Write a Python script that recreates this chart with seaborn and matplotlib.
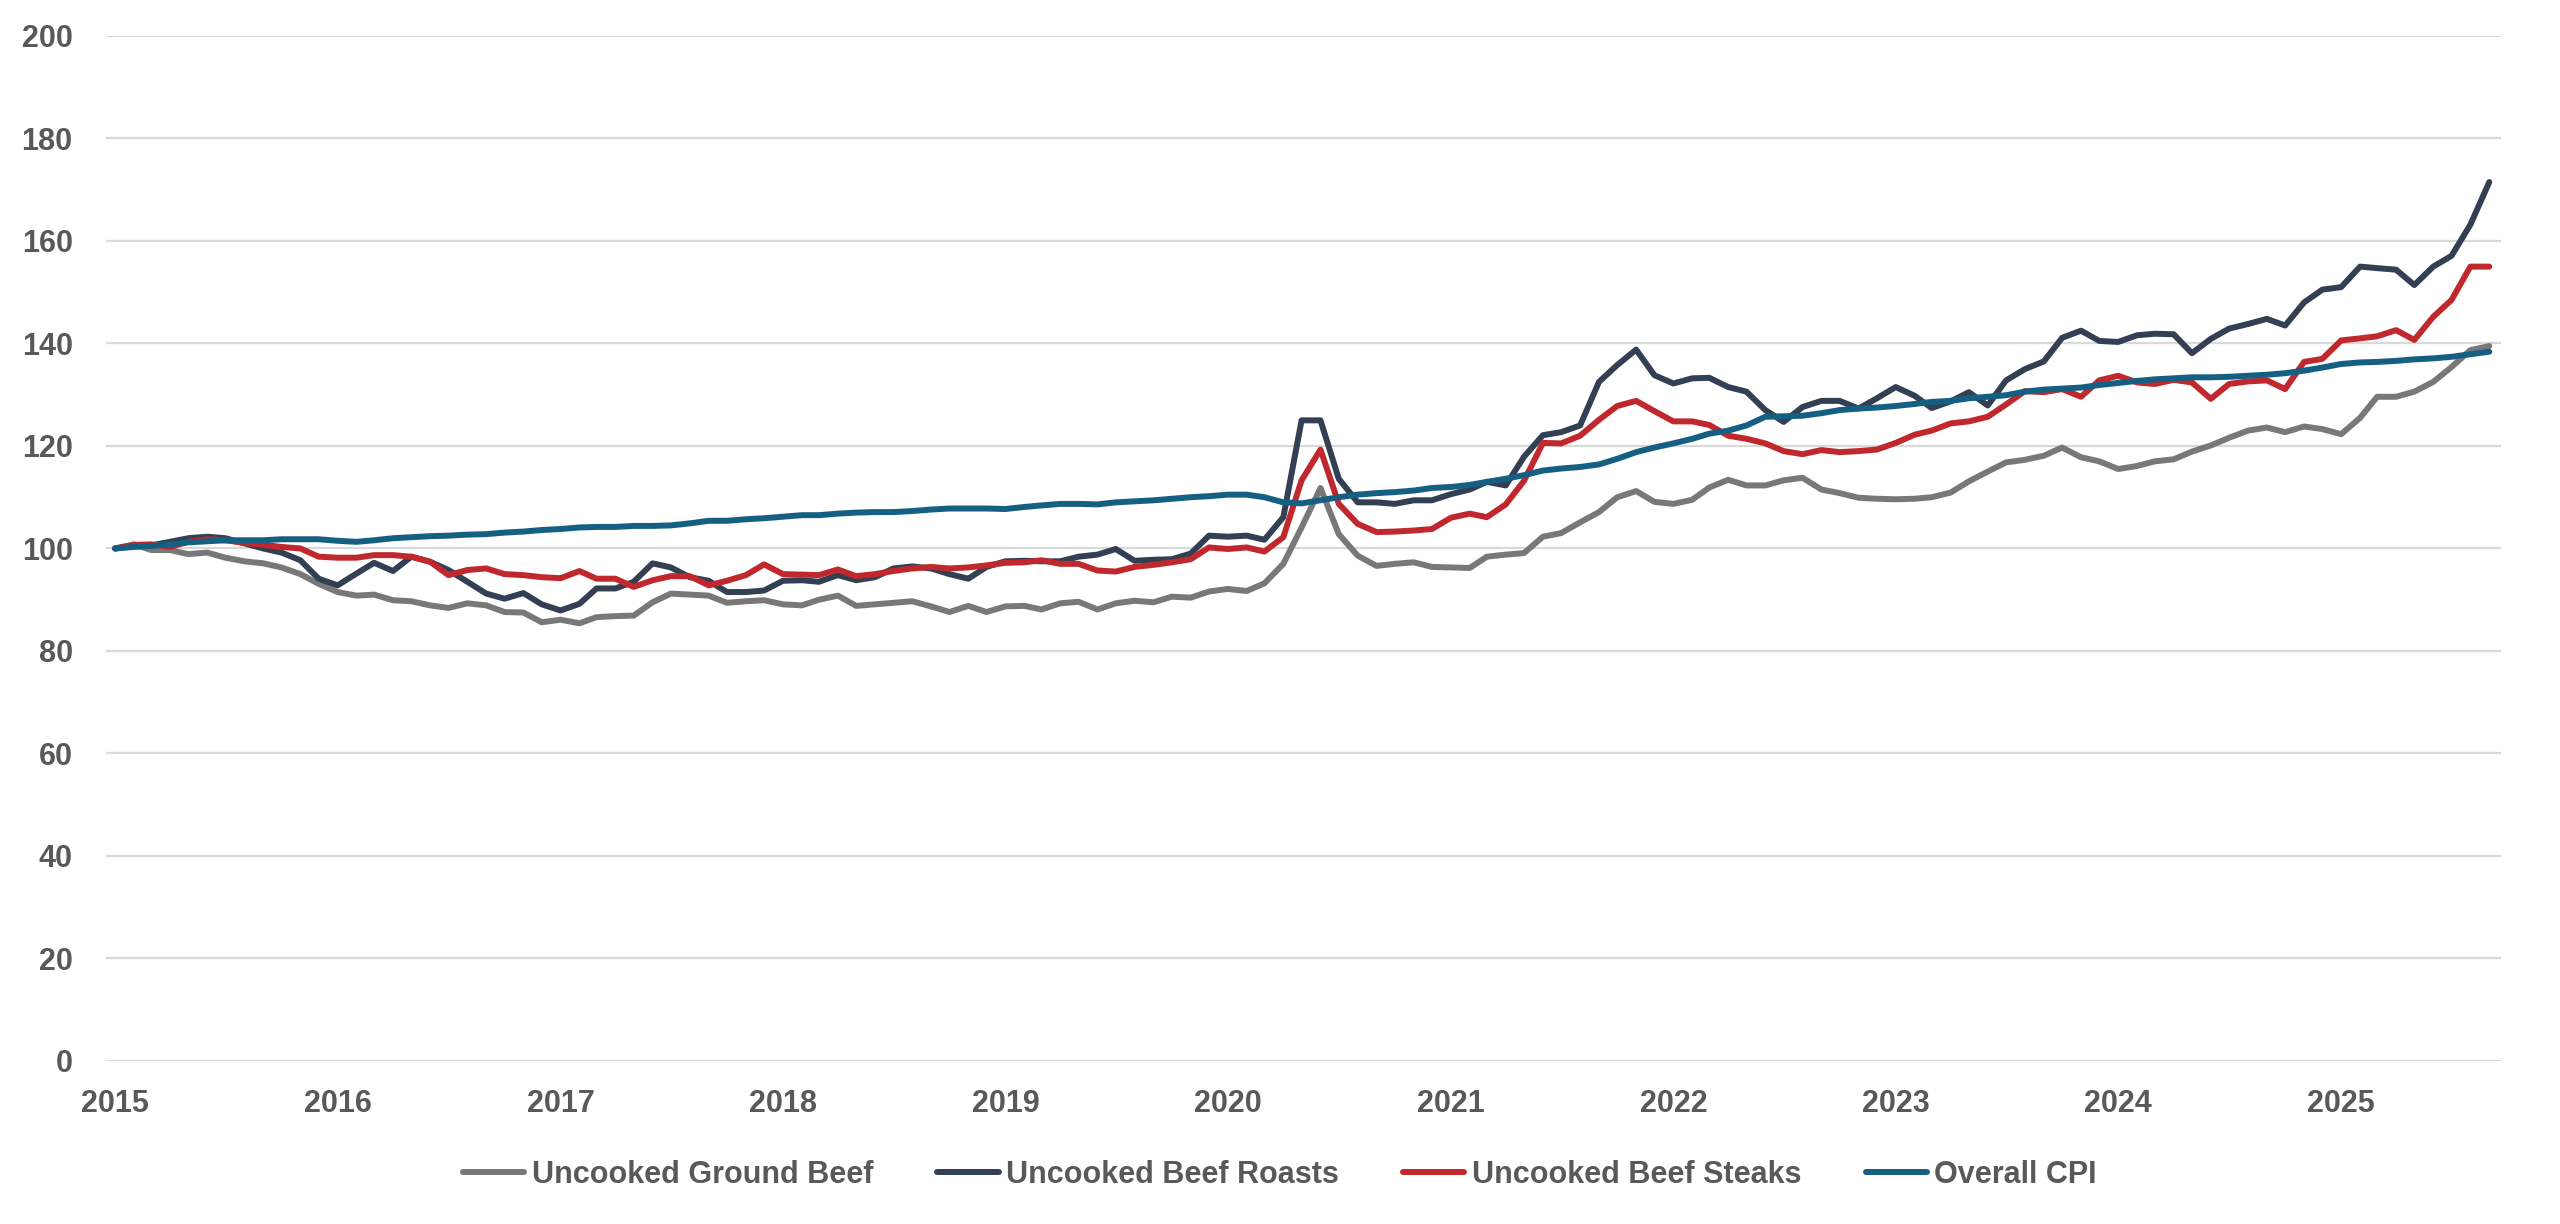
#!/usr/bin/env python3
"""
Beef price indexes vs overall CPI, Jan 2015 = 100.
Monthly values read off the reference chart.
"""

import pandas as pd
import matplotlib
matplotlib.use('Agg')
import matplotlib.pyplot as plt
import matplotlib.dates as mdates
import seaborn as sns

# monthly index values, Jan 2015 .. Sep 2025 (one row per year)
ground_beef = [
    100.0, 100.8, 99.7, 99.7, 98.9, 99.2, 98.2, 97.5, 97.1, 96.3, 95.0, 93.1,
    91.5, 90.8, 91.0, 89.9, 89.7, 88.9, 88.4, 89.3, 88.9, 87.6, 87.5, 85.6,
    86.1, 85.4, 86.6, 86.8, 86.9, 89.5, 91.2, 91.0, 90.8, 89.4, 89.7, 89.9,
    89.1, 88.9, 90.0, 90.8, 88.8, 89.1, 89.4, 89.7, 88.7, 87.6, 88.8, 87.6,
    88.7, 88.8, 88.1, 89.3, 89.6, 88.1, 89.3, 89.8, 89.5, 90.6, 90.4, 91.6,
    92.1, 91.7, 93.2, 97.0, 104.1, 111.8, 102.8, 98.6, 96.6, 97.0, 97.3, 96.4,
    96.3, 96.2, 98.4, 98.8, 99.1, 102.3, 103.0, 105.1, 107.1, 110.0, 111.2, 109.1,
    108.7, 109.5, 111.9, 113.4, 112.3, 112.3, 113.3, 113.8, 111.5, 110.8, 109.9, 109.7,
    109.6, 109.7, 110.0, 110.9, 113.1, 115.0, 116.8, 117.3, 118.1, 119.7, 117.8, 117.0,
    115.5, 116.1, 117.0, 117.4, 118.9, 120.1, 121.6, 123.0, 123.6, 122.7, 123.8, 123.3,
    122.3, 125.5, 129.6, 129.6, 130.6, 132.5, 135.4, 138.7, 139.5,
]

beef_roasts = [
    100.0, 100.5, 100.6, 101.3, 102.0, 102.3, 102.0, 101.0, 100.0, 99.2, 97.7, 94.1,
    92.8, 95.1, 97.2, 95.6, 98.4, 97.4, 95.8, 93.5, 91.2, 90.2, 91.3, 89.1,
    87.9, 89.2, 92.2, 92.2, 93.5, 97.1, 96.3, 94.4, 93.7, 91.5, 91.5, 91.8,
    93.7, 93.8, 93.5, 94.8, 93.8, 94.4, 96.1, 96.5, 96.1, 95.0, 94.1, 96.4,
    97.5, 97.6, 97.5, 97.5, 98.4, 98.8, 99.9, 97.6, 97.8, 97.9, 99.0, 102.5,
    102.3, 102.5, 101.7, 106.1, 125.0, 125.0, 113.6, 109.0, 109.0, 108.7, 109.4, 109.4,
    110.6, 111.5, 113.0, 112.3, 117.9, 122.1, 122.7, 124.0, 132.5, 135.8, 138.8, 133.8,
    132.2, 133.2, 133.3, 131.5, 130.6, 127.0, 124.7, 127.6, 128.8, 128.8, 127.3, 129.3,
    131.5, 129.8, 127.4, 128.7, 130.5, 127.9, 132.8, 135.0, 136.5, 141.1, 142.5, 140.5,
    140.3, 141.6, 141.9, 141.8, 138.1, 140.9, 142.9, 143.8, 144.8, 143.5, 148.0, 150.5,
    151.0, 155.0, 154.7, 154.4, 151.4, 155.0, 157.1, 163.2, 171.5,
]

beef_steaks = [
    100.0, 100.7, 100.8, 100.3, 101.3, 101.8, 101.6, 101.1, 100.7, 100.3, 100.0, 98.4,
    98.2, 98.2, 98.7, 98.7, 98.4, 97.4, 94.8, 95.8, 96.1, 95.0, 94.8, 94.4,
    94.2, 95.6, 94.1, 94.1, 92.5, 93.8, 94.6, 94.6, 92.8, 93.7, 94.8, 96.9,
    95.0, 94.9, 94.8, 95.9, 94.6, 95.0, 95.6, 96.1, 96.4, 96.1, 96.3, 96.7,
    97.2, 97.3, 97.7, 97.0, 97.0, 95.7, 95.5, 96.4, 96.8, 97.3, 97.9, 100.2,
    99.9, 100.2, 99.4, 102.2, 113.3, 119.3, 108.7, 104.8, 103.2, 103.3, 103.5, 103.8,
    106.0, 106.8, 106.1, 108.6, 113.2, 120.6, 120.5, 122.0, 125.1, 127.8, 128.8, 126.8,
    124.8, 124.8, 124.1, 122.0, 121.4, 120.5, 119.0, 118.4, 119.2, 118.8, 119.0, 119.3,
    120.6, 122.2, 123.0, 124.4, 124.8, 125.7, 128.1, 130.7, 130.5, 131.1, 129.6, 132.8,
    133.7, 132.4, 132.1, 132.9, 132.4, 129.2, 132.1, 132.6, 132.8, 131.1, 136.4, 137.0,
    140.6, 141.0, 141.4, 142.6, 140.7, 145.2, 148.5, 155.0, 155.0,
]

overall_cpi = [
    100.0, 100.3, 100.5, 100.8, 101.2, 101.4, 101.6, 101.6, 101.6, 101.8, 101.8, 101.8,
    101.5, 101.3, 101.6, 102.0, 102.2, 102.4, 102.5, 102.7, 102.8, 103.1, 103.3, 103.6,
    103.8, 104.1, 104.2, 104.2, 104.4, 104.4, 104.5, 104.9, 105.4, 105.4, 105.7, 105.9,
    106.2, 106.5, 106.5, 106.8, 107.0, 107.1, 107.1, 107.3, 107.6, 107.8, 107.8, 107.8,
    107.7, 108.1, 108.4, 108.7, 108.7, 108.6, 109.0, 109.2, 109.4, 109.7, 110.0, 110.2,
    110.5, 110.5, 110.0, 109.0, 108.8, 109.4, 110.0, 110.5, 110.8, 111.0, 111.3, 111.8,
    112.0, 112.4, 113.0, 113.6, 114.3, 115.2, 115.6, 115.9, 116.4, 117.5, 118.8, 119.7,
    120.5, 121.4, 122.4, 123.0, 124.0, 125.7, 125.8, 125.9, 126.4, 127.0, 127.3, 127.5,
    127.8, 128.2, 128.6, 128.8, 129.3, 129.6, 129.9, 130.6, 131.0, 131.2, 131.4, 131.9,
    132.3, 132.7, 133.0, 133.2, 133.4, 133.4, 133.5, 133.7, 133.9, 134.2, 134.7, 135.3,
    136.0, 136.3, 136.4, 136.6, 136.9, 137.1, 137.4, 137.9, 138.4,
]

series_names = ['Uncooked Ground Beef', 'Uncooked Beef Roasts',
                'Uncooked Beef Steaks', 'Overall CPI']
series_colors = ['#787878', '#333f53', '#c0282d', '#156082']

TEXT_COLOR = '#595959'
GRID_COLOR = '#d9d9d9'

months = pd.date_range('2015-01-01', periods=len(overall_cpi), freq='MS')
wide = pd.DataFrame({
    'month': months,
    series_names[0]: ground_beef,
    series_names[1]: beef_roasts,
    series_names[2]: beef_steaks,
    series_names[3]: overall_cpi,
})
df = wide.melt(id_vars='month', var_name='series', value_name='index')

sns.set_theme(style='white')
plt.rcParams['font.family'] = ['Liberation Sans', 'DejaVu Sans']

fig = plt.figure(figsize=(25.6, 12.24), dpi=100)
ax = fig.add_axes([0.0414, 0.1332, 0.9355, 0.8374])

sns.lineplot(data=df, x='month', y='index', hue='series',
             hue_order=series_names, palette=series_colors,
             linewidth=4.3, ax=ax, legend=False)
for line in ax.lines:
    line.set_solid_capstyle('round')
    line.set_solid_joinstyle('round')

# axes
ax.set_ylim(0, 200)
ax.set_yticks(range(0, 201, 20))
ax.set_xlim(pd.Timestamp('2014-12-17'), pd.Timestamp('2025-09-20'))
ax.xaxis.set_major_locator(mdates.YearLocator())
ax.xaxis.set_major_formatter(mdates.DateFormatter('%Y'))
ax.set_xlabel('')
ax.set_ylabel('')

ax.yaxis.grid(True, color=GRID_COLOR, linewidth=1.6)
ax.xaxis.grid(False)
ax.set_axisbelow(True)
for spine in ax.spines.values():
    spine.set_visible(False)

ax.tick_params(axis='y', length=0, pad=24, labelsize=22, labelcolor=TEXT_COLOR)
ax.tick_params(axis='x', length=0, pad=20, labelsize=22, labelcolor=TEXT_COLOR)
for lbl in ax.get_xticklabels() + ax.get_yticklabels():
    lbl.set_fontweight('bold')

# legend along the bottom
handles = [plt.Line2D([0], [0], color=c, linewidth=4.3, solid_capstyle='round')
           for c in series_colors]
leg = ax.legend(handles, series_names, loc='center',
                bbox_to_anchor=(0.5, 0.04), bbox_transform=fig.transFigure,
                ncol=4, frameon=False, handlelength=2.0, handletextpad=0.25,
                columnspacing=2.1, prop={'size': 22, 'weight': 'bold'})
for txt in leg.get_texts():
    txt.set_color(TEXT_COLOR)

fig.savefig('out.png', dpi=100)
print("Saved chart as 'out.png'.")
